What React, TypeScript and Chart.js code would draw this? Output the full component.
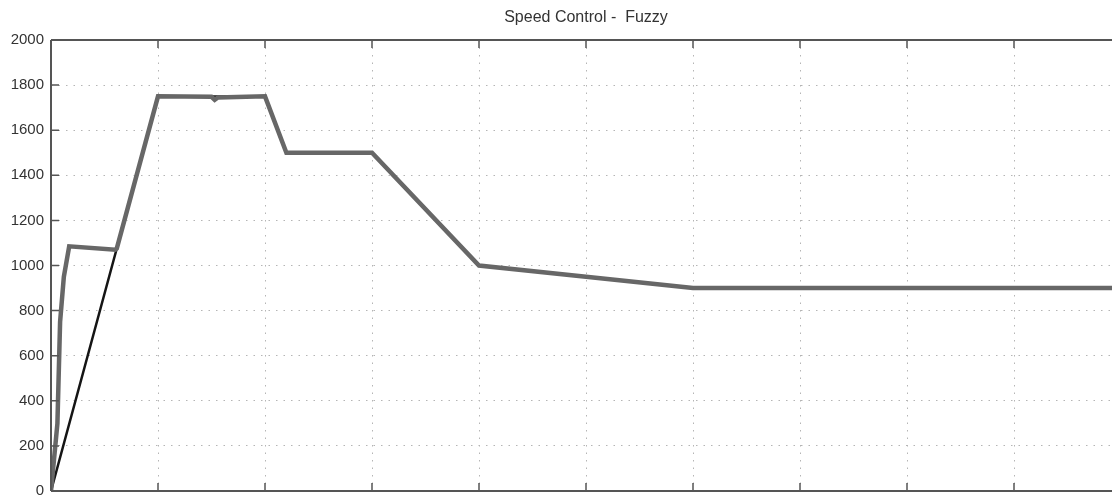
import React, { useEffect, useRef } from "react";
import { Chart, registerables } from "chart.js";

Chart.register(...registerables);

const chartTitle = "Speed Control -  Fuzzy";

// reference speed (black)
const refX = [0, 1, 2, 2.2, 3, 4, 6, 10];
const refY = [0, 1750, 1750, 1500, 1500, 1000, 900, 900];

// actual speed (gray, fuzzy controller)
const actX = [0, 0.06, 0.085, 0.12, 0.17, 0.6, 0.615, 1, 1.5, 1.53, 1.56, 2, 2.2, 3, 4, 5, 6, 8, 10];
const actY = [0, 300, 750, 950, 1085, 1070, 1076, 1750, 1748, 1735, 1745, 1750, 1500, 1500, 1000, 950, 900, 900, 900];

const yTicks = [0, 200, 400, 600, 800, 1000, 1200, 1400, 1600, 1800, 2000];
const xGrid = [0, 1, 2, 3, 4, 5, 6, 7, 8, 9, 10];

const toPts = (xs: number[], ys: number[]) => xs.map((x, i) => ({ x, y: ys[i] }));

const framePlugin = {
  id: "frame",
  afterDraw(chart: any) {
    const { ctx, chartArea } = chart;
    const { left, right, top, bottom } = chartArea;
    const xs = chart.scales.x;
    const ys = chart.scales.y;
    ctx.save();
    ctx.strokeStyle = "#555";
    ctx.lineWidth = 2;
    ctx.beginPath();
    ctx.moveTo(left, top);
    ctx.lineTo(right, top);
    ctx.moveTo(left, bottom);
    ctx.lineTo(right, bottom);
    ctx.moveTo(left, top);
    ctx.lineTo(left, bottom);
    ctx.stroke();
    ctx.lineWidth = 1.5;
    ctx.beginPath();
    xGrid.forEach((v) => {
      const px = xs.getPixelForValue(v);
      ctx.moveTo(px, bottom);
      ctx.lineTo(px, bottom - 8);
      ctx.moveTo(px, top);
      ctx.lineTo(px, top + 8);
    });
    yTicks.forEach((v) => {
      const py = ys.getPixelForValue(v);
      ctx.moveTo(left, py);
      ctx.lineTo(left + 8, py);
    });
    ctx.stroke();
    ctx.fillStyle = "#333";
    ctx.font = "16px 'Liberation Sans', Arial, sans-serif";
    ctx.textAlign = "center";
    ctx.textBaseline = "middle";
    ctx.fillText(chartTitle, (left + right) / 2, 18);
    ctx.restore();
  },
};

export default function App() {
  const ref = useRef<HTMLCanvasElement | null>(null);
  useEffect(() => {
    if (!ref.current) return;
    const chart = new Chart(ref.current, {
      type: "line",
      data: {
        datasets: [
          {
            label: "Actual speed",
            data: toPts(actX, actY),
            borderColor: "#676767",
            borderWidth: 4.5,
            pointRadius: 0,
            tension: 0,
            order: 1,
          },
          {
            label: "Reference speed",
            data: toPts(refX, refY),
            borderColor: "#151515",
            borderWidth: 2.5,
            pointRadius: 0,
            tension: 0,
            order: 2,
          },
        ],
      },
      options: {
        responsive: false,
        animation: false,
        layout: { padding: { left: 0, right: 9, top: 40, bottom: 0 } },
        plugins: { legend: { display: false }, tooltip: { enabled: false } },
        scales: {
          x: {
            type: "linear",
            min: 0,
            max: 10,
            ticks: { display: false, stepSize: 1 },
            grid: { color: "#b5b5b5", lineWidth: 1, drawTicks: false },
            border: { display: false, dash: [1.5, 6] },
            afterFit: (s: any) => {
              s.height = 10;
            },
          },
          y: {
            type: "linear",
            min: 0,
            max: 2000,
            ticks: {
              stepSize: 200,
              padding: 7,
              color: "#333",
              font: { size: 15, family: "'Liberation Sans', Arial, sans-serif" },
              callback: (v: any) => String(v),
            },
            grid: { color: "#b5b5b5", lineWidth: 1, drawTicks: false },
            border: { display: false, dash: [1.5, 6] },
            afterFit: (s: any) => {
              s.width = 51;
            },
          },
        },
      },
      plugins: [framePlugin],
    });
    return () => chart.destroy();
  }, []);
  return (
    <div
      style={{
        position: "fixed",
        left: 0,
        top: 0,
        width: "1112px",
        height: "496px",
        overflow: "hidden",
        background: "#fff",
      }}
    >
      <canvas ref={ref} width={1130} height={507} style={{ display: "block" }} />
    </div>
  );
}
